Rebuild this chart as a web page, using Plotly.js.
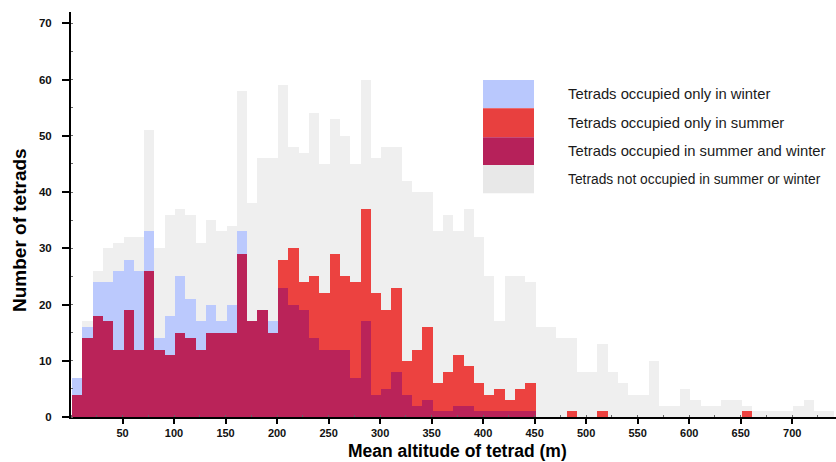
<!DOCTYPE html>
<html>
<head>
<meta charset="utf-8">
<script src="https://cdn.plot.ly/plotly-3.0.1.min.js"></script>
<style>html,body{margin:0;padding:0;background:#fff;}#chart{width:836px;height:462px;}</style>
</head>
<body>
<div id="chart"></div>
<script>
// Bin centres (m), 10 m bins
var altitude = [6,16,26,36,46,56,66,76,86,96,106,116,126,136,146,156,166,176,186,196,
  206,216,226,236,246,256,266,276,286,296,306,316,326,336,346,356,366,376,386,396,
  406,416,426,436,446,456,466,476,486,496,506,516,526,536,546,556,566,576,586,596,
  606,616,626,636,646,656,666,676,686,696,706,716,726,736];

var bothSeasons = [4,14,18,17,12,19,12,26,12,11,15,14,12,15,15,15,29,17,19,15,
  23,20,19,14,12,12,12,7,17,4,5,8,4,2,3,1,1,2,2,1,
  1,1,1,1,1,0,0,0,0,0,0,0,0,0,0,0,0,0,0,0,
  0,0,0,0,0,0,0,0,0,0,0,0,0,0];

var summerOnly = [0,0,0,0,0,0,0,0,0,0,0,0,0,0,0,0,0,0,0,0,
  5,10,5,11,10,17,13,17,20,18,14,15,6,10,13,5,7,9,7,5,
  3,4,2,4,5,0,0,0,1,0,0,1,0,0,0,0,0,0,0,0,
  0,0,0,0,0,1,0,0,0,0,0,0,0,0];

var winterOnly = [3,2,6,7,14,9,14,7,2,7,10,7,5,5,2,5,4,0,0,2,
  0,0,0,0,0,0,0,0,0,0,0,0,0,0,0,0,0,0,0,0,
  0,0,0,0,0,0,0,0,0,0,0,0,0,0,0,0,0,0,0,0,
  0,0,0,0,0,0,0,0,0,0,0,0,0,0];

var neither = [0,1,2,6,5,4,6,18,16,18,12,15,14,15,16,14,25,21,27,29,
  31,18,23,29,23,24,25,21,23,24,29,25,32,28,24,27,28,22,28,26,
  21,12,22,20,18,16,16,14,13,8,8,12,8,6,4,4,10,2,2,5,
  3,2,2,3,3,1,1,1,1,1,2,3,1,1];

var legendLabels = ["Tetrads occupied only in winter","Tetrads occupied only in summer",
  "Tetrads occupied in summer and winter","Tetrads not occupied in summer or winter"];
var colours = ["#B9C8FD","#E8403F","#B6215A","#E8E8E8"];
var barColours = ["#BBC9FD","#EC4240","#BA2359","#EFEFEF"];

var yTicks = [0,10,20,30,40,50,60,70];
var xTicks = [50,100,150,200,250,300,350,400,450,500,550,600,650,700];
var xTitle = "Mean altitude of tetrad (m)";
var yTitle = "Number of tetrads";

var series = [bothSeasons, summerOnly, winterOnly, neither];
var seriesLegendIdx = [2,1,0,3];
var traces = series.map(function(vals, i){
  var li = seriesLegendIdx[i];
  return {type:"bar", x:altitude, y:vals, width:10, name:legendLabels[li],
    marker:{color:barColours[li], line:{width:0}}, showlegend:false, hoverinfo:"x+y+name"};
});

var ML=71, MR=0, MT=12, MB=45, W=836, H=462;
function px(x){return (x-ML)/(W-ML-MR);}
function py(y){return (H-MB-y)/(H-MT-MB);}

var FAM = "Liberation Sans, Arial, sans-serif";
var shapes=[], annotations=[];
var swTop=[80,108.3,137.3,165], swBot=[108.3,137.3,165,193.3];
for (var i=0;i<4;i++){
  shapes.push({type:"rect", xref:"paper", yref:"paper", x0:px(483), x1:px(534),
    y0:py(swBot[i]), y1:py(swTop[i]), fillcolor:colours[i], line:{width:0}, layer:"above"});
  annotations.push({xref:"paper", yref:"paper", x:px(566), y:py((swTop[i]+swBot[i])/2),
    xanchor:"left", yanchor:"middle", showarrow:false, text:legendLabels[i],
    font:{family:FAM, size:(i==3?13.8:14.8), color:"#1a1a1a"}});
}
annotations.push({xref:"paper", yref:"paper", x:px(457), y:py(451), xanchor:"center", yanchor:"middle",
  showarrow:false, borderpad:0, text:xTitle, font:{family:FAM, size:17.5, color:"#000", weight:"bold"}});
annotations.push({xref:"paper", yref:"paper", x:px(19), y:py(230), xanchor:"center", yanchor:"middle",
  textangle:-90, showarrow:false, text:yTitle, font:{family:FAM, size:19, color:"#000", weight:"bold"}});

var layout = {
  width:W, height:H, margin:{l:ML, r:MR, t:MT, b:MB},
  paper_bgcolor:"#fff", plot_bgcolor:"#fff",
  barmode:"stack", bargap:0, showlegend:false,
  xaxis:{range:[0,742.5], tickvals:xTicks, ticks:"outside", ticklen:5, tickwidth:2, tickcolor:"#000",
    showline:true, linecolor:"#000", linewidth:2, showgrid:false, zeroline:false,
    tickfont:{family:FAM, size:11, color:"#111", weight:"bold"}, ticklabelstandoff:0,
    minor:{dtick:25, tick0:0, ticks:"inside", ticklen:2, tickcolor:"#666", tickwidth:1, showgrid:false}},
  yaxis:{range:[0,72], tickvals:yTicks, ticks:"outside", ticklen:7, tickwidth:2, tickcolor:"#000",
    showline:true, linecolor:"#000", linewidth:2, showgrid:false, zeroline:false,
    tickfont:{family:FAM, size:11.5, color:"#111", weight:"bold"}, ticklabelstandoff:8,
    minor:{dtick:5, tick0:0, ticks:"inside", ticklen:2, tickcolor:"#666", tickwidth:1, showgrid:false}},
  shapes:shapes, annotations:annotations
};
Plotly.newPlot("chart", traces, layout, {displayModeBar:false, staticPlot:true});
</script>
</body>
</html>
